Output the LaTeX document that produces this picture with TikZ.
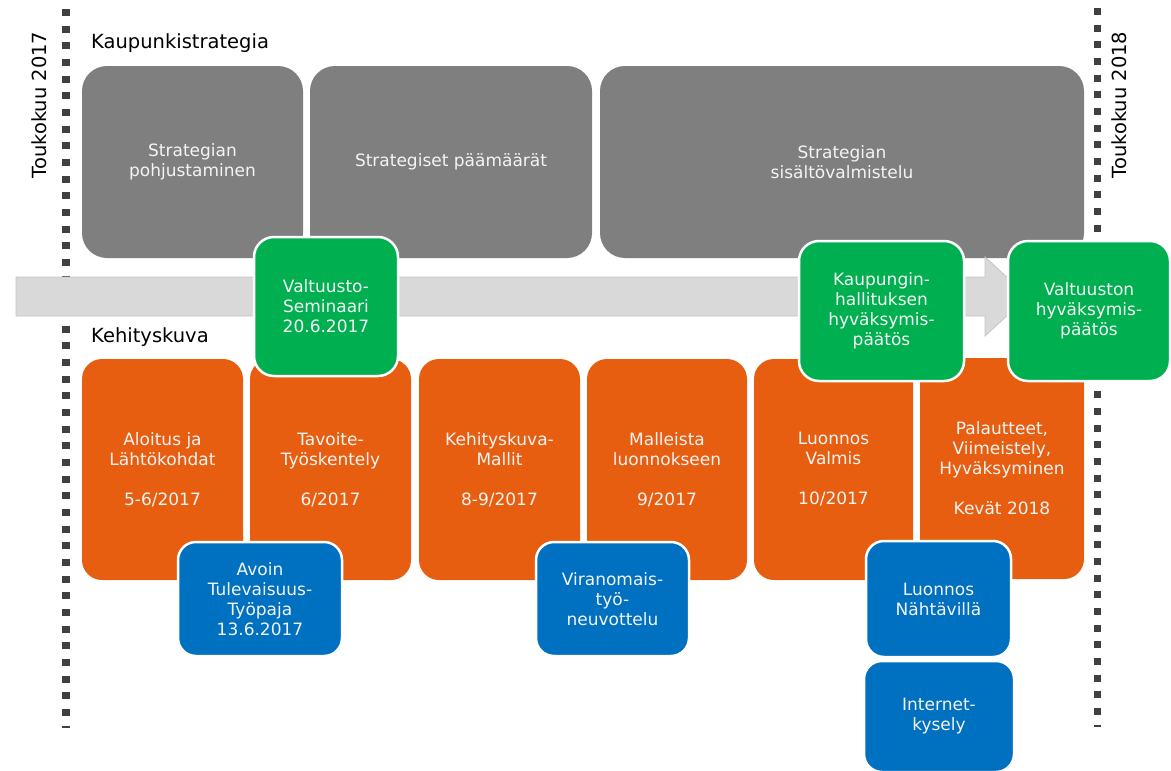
\documentclass[tikz,border=0pt]{standalone}
\usepackage{fontspec}
\setmainfont{DejaVu Sans}
\definecolor{grayc}{HTML}{7F7F7F}
\definecolor{orangec}{HTML}{E85E10}
\definecolor{greenc}{HTML}{00B050}
\definecolor{bluec}{HTML}{0070C0}
\definecolor{dotc}{HTML}{404040}
\definecolor{arrowc}{HTML}{D9D9D9}
\definecolor{arrowe}{HTML}{C4C4C4}
\definecolor{boxtext}{HTML}{F4F4F4}
\begin{document}
\begin{tikzpicture}[x=1pt,y=-1pt,
  boxbase/.style={align=center, text=boxtext, inner sep=0pt,
    font=\fontsize{17}{20}\selectfont},
  graybox/.style={boxbase, fill=grayc, rounded corners=25pt},
  orangebox/.style={boxbase, fill=orangec, rounded corners=20pt, minimum height=221pt},
  greenbox/.style={boxbase, fill=greenc, draw=white, line width=2.5pt, rounded corners=20pt},
  bluebox/.style={boxbase, fill=bluec, draw=white, line width=2.5pt, rounded corners=18pt},
  heading/.style={anchor=base west, inner sep=0pt, text=black,
    font=\fontsize{19.5}{23}\selectfont},
  datelabel/.style={rotate=90, inner sep=0pt, text=black,
    font=\fontsize{19.5}{23}\selectfont},
  dotline/.style={draw=dotc, line width=7.5pt, dash pattern=on 7pt off 9.67pt},
  timearrow/.style={fill=arrowc, draw=arrowe, line width=0.8pt, line join=miter}
]
\useasboundingbox (0,0) rectangle (1171,771);

% dotted boundary lines
\coordinate (ltop) at (66,9);
\coordinate (lbot) at (66,728);
\coordinate (rtop) at (1097.5,8);
\coordinate (rbot) at (1097.5,727);
\draw[dotline] (ltop) -- (lbot);
\draw[dotline] (rtop) -- (rbot);

% date labels
\node[datelabel] (d1) at (39,105) {Toukokuu 2017};
\node[datelabel] (d2) at (1119,105) {Toukokuu 2018};

% headings
\node[heading] (h1) at (91,48) {Kaupunkistrategia};
\node[heading] (h2) at (91,342) {Kehityskuva};

% strategy boxes
\node[graybox, minimum width=221pt, minimum height=192pt] (s1) at (192.5,162) {Strategian\\pohjustaminen};
\node[graybox, minimum width=282pt, minimum height=192pt] (s2) at (451,162) {Strategiset päämäärät};
\node[graybox, minimum width=484pt, minimum height=192pt] (s3) at (842,162) {Strategian\\sisältövalmistelu};

% time arrow
\draw[timearrow] (16,277) -- (985,277) -- (985,257) -- (1028,296.5) -- (985,336) -- (985,316) -- (16,316) -- cycle;

% development boxes
\node[orangebox, minimum width=161pt] (o1) at (162.5,469.5) {Aloitus ja\\Lähtökohdat\\[20pt]5-6/2017};
\node[orangebox, minimum width=161pt] (o2) at (330.5,469.5) {Tavoite-\\Työskentely\\[20pt]6/2017};
\node[orangebox, minimum width=161pt] (o3) at (499.5,469.5) {Kehityskuva-\\Mallit\\[20pt]8-9/2017};
\node[orangebox, minimum width=160pt] (o4) at (667,469.5) {Malleista\\luonnokseen\\[20pt]9/2017};
\node[orangebox, minimum width=159pt] (o5) at (833.5,469.5) {Luonnos\\Valmis\\[20pt]10/2017};
\node[orangebox, minimum width=164pt] (o6) at (1002,468.5) {Palautteet,\\Viimeistely,\\Hyväksyminen\\[20pt]Kevät 2018};

% decision boxes
\node[greenbox, minimum width=144pt, minimum height=139pt] (g1) at (326,306.5) {Valtuusto-\\Seminaari\\20.6.2017};
\node[greenbox, minimum width=165pt, minimum height=140pt] (g2) at (881.5,311) {Kaupungin-\\hallituksen\\hyväksymis-\\päätös};
\node[greenbox, minimum width=162pt, minimum height=140pt] (g3) at (1089,311) {Valtuuston\\hyväksymis-\\päätös};

% participation boxes
\node[bluebox, minimum width=164pt, minimum height=114pt] (b1) at (260,599) {Avoin\\Tulevaisuus-\\Työpaja\\13.6.2017};
\node[bluebox, minimum width=153pt, minimum height=114pt] (b2) at (612.5,599) {Viranomais-\\työ-\\neuvottelu};
\node[bluebox, minimum width=145pt, minimum height=116pt] (b3) at (938.5,599) {Luonnos\\Nähtävillä};
\node[bluebox, minimum width=150pt, minimum height=111pt] (b4) at (939,716.5) {Internet-\\kysely};
\end{tikzpicture}
\end{document}
